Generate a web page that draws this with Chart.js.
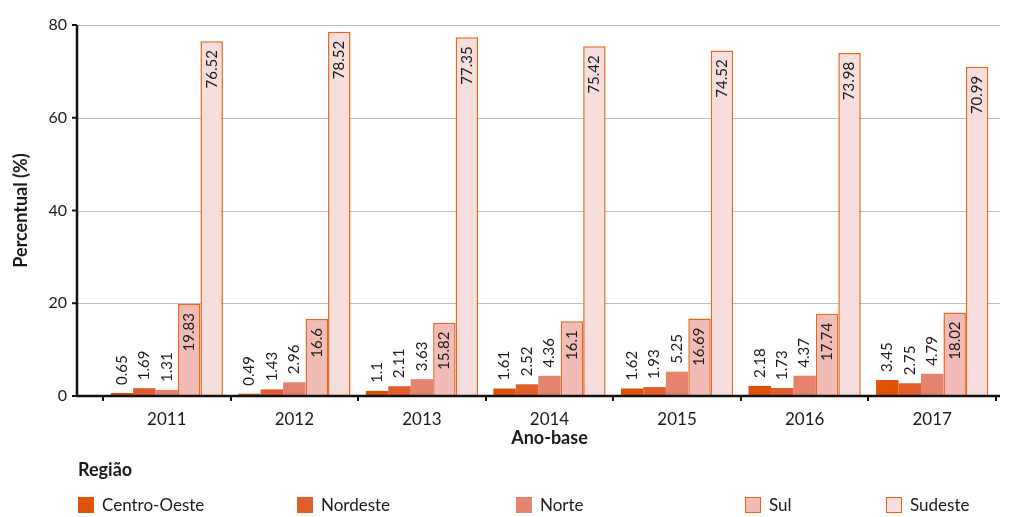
<!DOCTYPE html>
<html>
<head>
<meta charset="utf-8">
<script src="https://cdn.jsdelivr.net/npm/chart.js@4"></script>
<style>
  body { margin: 0; background: #fff; font-family: Lato, sans-serif; color: #1a1a1a; }
  #wrap { position: relative; width: 1015px; height: 517px; }
  #legend { position: absolute; left: 78px; top: 458px; }
  #legend .title { font-weight: bold; font-size: 18px; line-height: 22px; }
  #legend .items { display: grid; grid-template-columns: 219px 219px 229px 141px auto; margin-top: 14px; }
  #legend .item { display: flex; align-items: center; font-size: 17px; }
  #legend .box { width: 16px; height: 16px; margin-right: 8px; box-sizing: border-box; }
</style>
</head>
<body>
<div id="wrap">
  <canvas id="chart"></canvas>
  <div id="legend"><div class="title">Região</div><div class="items"></div></div>
</div>
<script>
const years = ['2011', '2012', '2013', '2014', '2015', '2016', '2017'];
const regions = ['Centro-Oeste', 'Nordeste', 'Norte', 'Sul', 'Sudeste'];
const centroOeste = [0.65, 0.49, 1.1, 1.61, 1.62, 2.18, 3.45];
const nordeste = [1.69, 1.43, 2.11, 2.52, 1.93, 1.73, 2.75];
const norte = [1.31, 2.96, 3.63, 4.36, 5.25, 4.37, 4.79];
const sul = [19.83, 16.6, 15.82, 16.1, 16.69, 17.74, 18.02];
const sudeste = [76.52, 78.52, 77.35, 75.42, 74.52, 73.98, 70.99];
const yTicks = [0, 20, 40, 60, 80];

const fills = ['#e05206', '#e05f2d', '#e5836f', '#f0bcb5', '#f5dedc'];
const edges = ['#e05206', '#e05f2d', '#e5836f', '#e8651e', '#e8651e'];
const FONT = 'Lato, sans-serif';
const axisGap = 26; // y axis line sits left of the first category

const values = [centroOeste, nordeste, norte, sul, sudeste];
const datasets = regions.map((r, i) => ({
  label: r,
  data: values[i],
  backgroundColor: fills[i],
  borderColor: edges[i],
  borderWidth: i >= 3 ? 1.5 : 0,
  borderSkipped: 'bottom',
}));

// legend
const items = document.querySelector('#legend .items');
regions.forEach((r, i) => {
  const d = document.createElement('div');
  d.className = 'item';
  d.innerHTML = `<span class="box" style="background:${fills[i]};${i >= 3 ? 'border:1.5px solid ' + edges[i] : ''}"></span>${r}`;
  items.appendChild(d);
});

const axesPlugin = {
  id: 'axes',
  beforeDatasetsDraw(chart) {
    const { ctx, chartArea, scales } = chart;
    ctx.save();
    ctx.strokeStyle = '#bdbdbd';
    ctx.lineWidth = 1;
    yTicks.slice(1).forEach(v => {
      const y = Math.round(scales.y.getPixelForValue(v)) + 0.5;
      ctx.beginPath();
      ctx.moveTo(chartArea.left - axisGap, y);
      ctx.lineTo(chartArea.right + 4, y);
      ctx.stroke();
    });
    ctx.restore();
  },
  afterDatasetsDraw(chart) {
    const { ctx, chartArea, scales } = chart;
    const x0 = chartArea.left - axisGap;
    ctx.save();
    ctx.strokeStyle = '#111';
    ctx.lineWidth = 2.5;
    ctx.beginPath();
    ctx.moveTo(x0, chartArea.top);
    ctx.lineTo(x0, chartArea.bottom);
    ctx.stroke();
    ctx.beginPath();
    ctx.moveTo(x0 - 1, chartArea.bottom);
    ctx.lineTo(chartArea.right + 4, chartArea.bottom);
    ctx.stroke();
    ctx.lineWidth = 2;
    yTicks.forEach(v => {
      const y = scales.y.getPixelForValue(v);
      ctx.beginPath();
      ctx.moveTo(x0 - 5, y);
      ctx.lineTo(x0, y);
      ctx.stroke();
    });
    ctx.restore();

    // value labels
    ctx.save();
    ctx.font = `15px ${FONT}`;
    ctx.fillStyle = '#1a1a1a';
    ctx.textBaseline = 'middle';
    chart.data.datasets.forEach((ds, di) => {
      chart.getDatasetMeta(di).data.forEach((bar, j) => {
        const txt = String(ds.data[j]);
        const w = ctx.measureText(txt).width;
        const h = bar.base - bar.y;
        ctx.save();
        ctx.translate(bar.x, bar.y);
        ctx.rotate(-Math.PI / 2);
        if (h > w + 14) {
          ctx.textAlign = 'right';
          ctx.fillText(txt, -9, 0);
        } else {
          ctx.textAlign = 'left';
          ctx.fillText(txt, 8, 0);
        }
        ctx.restore();
      });
    });
    ctx.restore();
  }
};

new Chart(document.getElementById('chart'), {
  type: 'bar',
  data: { labels: years, datasets },
  plugins: [axesPlugin],
  options: {
    responsive: true,
    maintainAspectRatio: false,
    animation: false,
    layout: { padding: { top: 25, right: 19, bottom: 68, left: 0 } },
    plugins: { legend: { display: false }, tooltip: { enabled: false } },
    datasets: { bar: { categoryPercentage: 0.88, barPercentage: 1 } },
    scales: {
      x: {
        border: { display: false },
        grid: { offset: true, drawOnChartArea: false, drawTicks: true, tickLength: 5, color: '#111', lineWidth: 2 },
        ticks: { color: '#1a1a1a', font: { family: FONT, size: 17 }, padding: 8 },
        title: { display: true, text: 'Ano-base', color: '#1a1a1a', font: { family: FONT, size: 18, weight: 'bold' }, padding: { top: -10, bottom: 0 } }
      },
      y: {
        min: 0, max: 80,
        afterFit: s => { s.width = 103; },
        border: { display: false },
        grid: { display: false, drawTicks: true, tickLength: 36 },
        ticks: { stepSize: 20, color: '#1a1a1a', font: { family: FONT, size: 16 }, padding: 0 },
        title: { display: true, text: 'Percentual (%)', color: '#1a1a1a', font: { family: FONT, size: 18, weight: 'bold' }, padding: { top: 10, bottom: 0 } }
      }
    }
  }
});
</script>
</body>
</html>
